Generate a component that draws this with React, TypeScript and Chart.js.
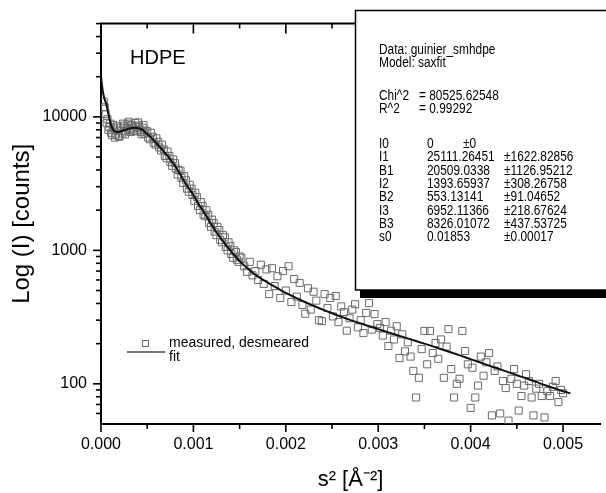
import React, { useEffect, useRef } from 'react';
import { Chart, registerables } from 'chart.js';

Chart.register(...registerables);

const FONT = "'Liberation Sans', Arial, Helvetica, sans-serif";

// ---- fit curve (s^2, counts) ----
const fitX = [
  0, 0.00002, 0.00004, 0.00006, 0.00008, 0.0001, 0.00012, 0.00014, 0.00017, 0.0002,
  0.00025, 0.0003, 0.00035, 0.0004, 0.00045, 0.0005, 0.00055, 0.0006, 0.00065, 0.0007,
  0.00075, 0.0008, 0.00085, 0.0009, 0.00095, 0.001, 0.00105, 0.0011, 0.00115, 0.0012,
  0.00125, 0.0013, 0.00135, 0.0014, 0.00145, 0.0015, 0.0016, 0.0017, 0.0018, 0.0019,
  0.002, 0.0021, 0.0022, 0.0023, 0.0024, 0.0025, 0.0026, 0.0027, 0.0028, 0.0029,
  0.003, 0.0031, 0.0032, 0.0033, 0.0034, 0.0035, 0.0036, 0.0037, 0.0038, 0.0039,
  0.004, 0.0041, 0.0042, 0.0043, 0.0044, 0.0045, 0.0046, 0.0047, 0.0048, 0.0049,
  0.005, 0.00508,
];
const fitY = [
  20000, 15500, 13500, 12300, 10500, 9200, 8300, 7850, 7700, 7750,
  7950, 8150, 8280, 8250, 8000, 7450, 6900, 6350, 5800, 5300,
  4800, 4300, 3800, 3300, 2920, 2600, 2250, 2000, 1760, 1540,
  1360, 1220, 1100, 1000, 910, 830, 720, 635, 575, 525,
  480, 445, 412, 385, 360, 338, 318, 300, 285, 270,
  257, 244, 232, 221, 210, 200, 190, 180, 171, 162,
  153, 145, 137, 130, 123, 116, 110, 104, 98, 93,
  88, 85,
];

// ---- measured, desmeared ----
const measX = [
  0.00003, 0.00005, 0.00007, 0.00009, 0.00011, 0.00013, 0.00015, 0.00017, 0.00019, 0.00021,
  0.00023, 0.00025, 0.00027, 0.00029, 0.00031, 0.00033, 0.00035, 0.00037, 0.00039, 0.00041,
  0.00043, 0.00045, 0.00047, 0.0005, 0.00053, 0.00056, 0.00059, 0.00062, 0.00065, 0.00068,
  0.00071, 0.00074, 0.00077, 0.0008, 0.00083, 0.00086, 0.00089, 0.00092, 0.00095, 0.00098,
  0.00101, 0.00104, 0.00107, 0.0011, 0.00113, 0.00116, 0.00119, 0.00122, 0.00125, 0.00128,
  0.00131, 0.00134, 0.00137, 0.0014, 0.00143, 0.00146, 0.00149, 0.00152,
  0.00004, 0.00006, 0.00008, 0.0001, 0.00012, 0.00014, 0.00016, 0.00018, 0.0002, 0.00022,
  0.00024, 0.00026, 0.00028, 0.0003, 0.00032, 0.00034, 0.00036, 0.00038, 0.0004, 0.00042,
  0.00044, 0.00046, 0.00048, 0.00051, 0.00054, 0.00057, 0.0006, 0.00063, 0.00066, 0.00069,
  0.00072, 0.00075, 0.00078, 0.00081, 0.00084, 0.00087, 0.0009, 0.00093, 0.00096, 0.00099,
  0.00102, 0.00105, 0.00108, 0.00111, 0.00114, 0.00117, 0.0012, 0.00123, 0.00126, 0.00129,
  0.00132, 0.00135, 0.00138, 0.00141, 0.00144, 0.00147, 0.0015,
  0.00155, 0.00158, 0.00161, 0.00164, 0.00167, 0.0017, 0.00173, 0.00176, 0.00179, 0.00182,
  0.00185, 0.00188, 0.00191, 0.00194, 0.00197, 0.002, 0.00203, 0.00206, 0.00209, 0.00212,
  0.00215, 0.00218, 0.00221, 0.00224, 0.00227, 0.0023, 0.00233, 0.00236, 0.00239, 0.00242,
  0.00245, 0.00248, 0.00251, 0.00254,
  0.00257, 0.0026, 0.00263, 0.00266, 0.00269, 0.00272, 0.00275, 0.00278, 0.00281, 0.00284,
  0.00287, 0.0029, 0.00293, 0.00296, 0.00299, 0.00302, 0.00305, 0.00308, 0.00311, 0.00314,
  0.00317, 0.0032, 0.00323, 0.00326, 0.00329, 0.00332, 0.00335, 0.00338, 0.00341, 0.00344,
  0.00347, 0.0035, 0.00353, 0.00356,
  0.00359, 0.00362, 0.00365, 0.00368, 0.00371, 0.00374, 0.00376, 0.00379, 0.00382, 0.00385,
  0.00388, 0.00391, 0.00394, 0.00397, 0.004, 0.00402, 0.00405, 0.00408, 0.00411, 0.00414,
  0.00417, 0.0042, 0.00423, 0.00426, 0.00429, 0.00432, 0.00435, 0.00438, 0.00441, 0.00444,
  0.00447, 0.0045, 0.00452, 0.00455, 0.00458, 0.0046, 0.00463, 0.00466, 0.00468, 0.00471,
  0.00474, 0.00477, 0.0048, 0.00483, 0.00486, 0.00489, 0.00492, 0.00495, 0.00498, 0.005,
];
const measY = [
  13000, 10500, 9600, 8400, 7600, 8700, 7000, 7900, 7200, 8300,
  7500, 8600, 7800, 8900, 8000, 8700, 8200, 9000, 7900, 8600,
  7700, 8300, 7500, 7800, 6800, 7100, 6200, 6500, 5600, 5700,
  4900, 5100, 4300, 4500, 3700, 3950, 3200, 3350, 2750, 2900,
  2350, 2500, 2000, 2150, 1800, 1850, 1500, 1600, 1300, 1420,
  1150, 1250, 1000, 1080, 880, 970, 820, 880,
  11800, 9000, 8000, 8900, 7300, 8200, 7400, 8500, 7100, 7800,
  8900, 7400, 8300, 9200, 7700, 8600, 7800, 8400, 9100, 8000,
  7400, 8700, 7900, 7000, 7600, 6400, 6900, 5900, 6200, 5100,
  5500, 4600, 4800, 4100, 4000, 3500, 3600, 2900, 3100, 2600,
  2700, 2150, 2300, 1850, 2000, 1600, 1700, 1380, 1500, 1200,
  1300, 1060, 1150, 940, 1000, 850, 900,
  760, 690, 820, 650, 700, 600, 780, 560, 720, 470,
  735, 540, 640, 440, 700, 500, 760, 410, 610, 450,
  570, 390, 335, 520, 360, 490, 420, 300, 295, 470,
  370, 440, 320, 455,
  290, 380, 345, 250, 310, 360, 395, 265, 300, 240,
  340, 402, 255, 333, 280, 262, 230, 290, 192, 250,
  215, 270, 156, 235, 175, 205, 160, 125, 79, 111,
  182, 249, 140, 249,
  170, 202, 154, 215, 111, 190, 257, 129, 79, 100,
  109, 249, 176, 140, 66, 132, 79, 97, 160, 115,
  145, 170, 58, 125, 135, 60, 105, 93, 53, 109,
  129, 100, 63, 81, 97, 118, 105, 79, 58, 92,
  100, 81, 56, 88, 81, 95, 105, 73, 90, 85,
];

// ---- axes ----
const xMajorTicks = [0, 0.001, 0.002, 0.003, 0.004, 0.005];
const xMinorTicks = [0.0005, 0.0015, 0.0025, 0.0035, 0.0045];
const yMajorTicks = [100, 1000, 10000];
const yMinorTicks = [
  60, 70, 80, 90, 200, 300, 400, 500, 600, 700, 800, 900,
  2000, 3000, 4000, 5000, 6000, 7000, 8000, 9000, 20000, 30000, 40000, 50000,
];

// ---- fit report box ----
const reportHeader = ['Data: guinier_smhdpe', 'Model: saxfit'];
const statNames = ['Chi^2', 'R^2'];
const statValues = ['= 80525.62548', '= 0.99292'];
const paramNames = ['I0', 'I1', 'B1', 'I2', 'B2', 'I3', 'B3', 's0'];
const paramValues = ['0', '25111.26451', '20509.0338', '1393.65937', '553.13141', '6952.11366', '8326.01072', '0.01853'];
const paramErrors = ['±0', '±1622.82856', '±1126.95212', '±308.26758', '±91.04652', '±218.67624', '±437.53725', '±0.00017'];

const sampleName = 'HDPE';
const seriesLabels = ['fit', 'measured, desmeared'];

function drawSquare(ctx: CanvasRenderingContext2D, x: number, y: number, s: number) {
  ctx.strokeRect(Math.round(x - s / 2) + 0.5, Math.round(y - s / 2) + 0.5, s, s);
}

const decorPlugin = {
  id: 'decor',
  afterDatasetsDraw(chart: any) {
    const { ctx, chartArea: ca, scales } = chart;
    const xs = scales.x;
    const ys = scales.y;
    ctx.save();
    ctx.strokeStyle = '#000';
    ctx.lineWidth = 2;
    ctx.beginPath();
    ctx.moveTo(ca.left - 1, ca.top);
    ctx.lineTo(ca.right, ca.top);
    ctx.stroke();
    ctx.lineWidth = 1.6;
    const drawX = (v: number, lenB: number, lenT: number) => {
      const px = xs.getPixelForValue(v);
      if (px < ca.left - 1 || px > ca.right + 1) return;
      ctx.beginPath();
      ctx.moveTo(px, ca.bottom);
      ctx.lineTo(px, ca.bottom + lenB);
      ctx.moveTo(px, ca.top);
      ctx.lineTo(px, ca.top + lenT);
      ctx.stroke();
    };
    xMajorTicks.forEach((v) => drawX(v, 8, 10));
    xMinorTicks.forEach((v) => drawX(v, 5, 5));
    const drawY = (v: number, len: number) => {
      const py = ys.getPixelForValue(v);
      ctx.beginPath();
      ctx.moveTo(ca.left - len, py);
      ctx.lineTo(ca.left, py);
      ctx.stroke();
    };
    yMajorTicks.forEach((v) => drawY(v, 8));
    yMinorTicks.forEach((v) => drawY(v, 5));
    ctx.restore();
  },
  afterDraw(chart: any) {
    const { ctx } = chart;
    const ds = chart.data.datasets;
    ctx.save();
    ctx.fillStyle = '#000';
    ctx.font = `20px ${FONT}`;
    ctx.textBaseline = 'alphabetic';
    ctx.textAlign = 'left';
    ctx.fillText(sampleName, 130, 64);

    // legend
    ctx.font = `14px ${FONT}`;
    ctx.strokeStyle = ds[1].borderColor;
    ctx.lineWidth = 1;
    drawSquare(ctx, 145, 343, 6);
    ctx.fillText(ds[1].label, 169, 347);
    ctx.strokeStyle = '#444';
    ctx.lineWidth = 1.5;
    ctx.beginPath();
    ctx.moveTo(127, 352);
    ctx.lineTo(165, 352);
    ctx.stroke();
    ctx.fillText(ds[0].label, 169, 361);

    // report box
    ctx.fillStyle = '#fff';
    ctx.fillRect(355, 10, 260, 280);
    ctx.strokeStyle = '#000';
    ctx.lineWidth = 1.5;
    ctx.strokeRect(355.5, 10.5, 270, 279.5);
    ctx.fillStyle = '#000';
    ctx.fillRect(360, 290, 250, 8);

    const put = (t: string, x: number, y: number) => {
      ctx.save();
      ctx.translate(x, y);
      ctx.scale(0.85, 1);
      ctx.fillText(t, 0, 0);
      ctx.restore();
    };
    ctx.font = `14px ${FONT}`;
    ctx.fillStyle = '#000';
    reportHeader.forEach((t, i) => put(t, 379, 54 + i * 13));
    statNames.forEach((t, i) => {
      put(t, 379, 100 + i * 13.3);
      put(statValues[i], 419, 100 + i * 13.3);
    });
    paramNames.forEach((t, i) => {
      const y = 148 + i * 13.3;
      put(t, 379, y);
      put(paramValues[i], 427, y);
      put(paramErrors[i], paramValues[i].length < 3 ? 463 : 504, y);
    });
    ctx.restore();
  },
};

export default function App() {
  const ref = useRef<HTMLCanvasElement | null>(null);
  useEffect(() => {
    if (!ref.current) return;
    const fitData = fitX.map((x, i) => ({ x, y: fitY[i] }));
    const measData = measX.map((x, i) => ({ x, y: measY[i] }));
    const chart = new Chart(ref.current, {
      type: 'scatter',
      data: {
        datasets: [
          {
            label: seriesLabels[0],
            data: fitData,
            type: 'line',
            showLine: true,
            borderColor: '#111',
            borderWidth: 2,
            pointRadius: 0,
            cubicInterpolationMode: 'monotone',
            fill: false,
            order: 0,
          } as any,
          {
            label: seriesLabels[1],
            data: measData,
            pointStyle: 'rect',
            pointRadius: 5,
            borderColor: '#6a6a6a',
            backgroundColor: 'rgba(0,0,0,0)',
            borderWidth: 1,
            order: 1,
          },
        ],
      },
      options: {
        animation: false,
        responsive: false,
        devicePixelRatio: 1,
        layout: { padding: { top: 20, right: 0, left: 0, bottom: 0 } },
        plugins: { legend: { display: false }, tooltip: { enabled: false } },
        scales: {
          x: {
            type: 'linear',
            min: 0,
            max: 0.0054,
            afterBuildTicks: (s: any) => {
              s.ticks = xMajorTicks.map((v) => ({ value: v }));
            },
            afterFit: (s: any) => {
              s.height = 69;
            },
            grid: { display: false, drawTicks: false },
            border: { display: true, color: '#000', width: 2 },
            ticks: {
              color: '#000',
              font: { family: FONT, size: 16 },
              padding: 11,
              maxRotation: 0,
              autoSkip: false,
              callback: (v: any) => Number(v).toFixed(3),
            },
            title: {
              display: true,
              text: 's² [Å⁻²]',
              color: '#000',
              font: { family: FONT, size: 22 },
              padding: { top: 0, bottom: 0 },
            },
          },
          y: {
            type: 'logarithmic',
            min: 50,
            max: 50000,
            afterBuildTicks: (s: any) => {
              s.ticks = yMajorTicks.map((v) => ({ value: v }));
            },
            afterFit: (s: any) => {
              s.width = 101;
            },
            grid: { display: false, drawTicks: false },
            border: { display: true, color: '#000', width: 2 },
            ticks: {
              color: '#000',
              font: { family: FONT, size: 16 },
              padding: 14,
              autoSkip: false,
              callback: (v: any) => String(v),
            },
            title: {
              display: true,
              text: 'Log (I) [counts]',
              color: '#000',
              font: { family: FONT, size: 24 },
              padding: { top: 8, bottom: 0 },
            },
          },
        },
      },
      plugins: [decorPlugin],
    });
    return () => chart.destroy();
  }, []);
  return (
    <div style={{ position: 'absolute', left: 0, top: 0, width: 606, height: 493, background: '#fff' }}>
      <canvas ref={ref} width={606} height={493} style={{ display: 'block' }} />
    </div>
  );
}
